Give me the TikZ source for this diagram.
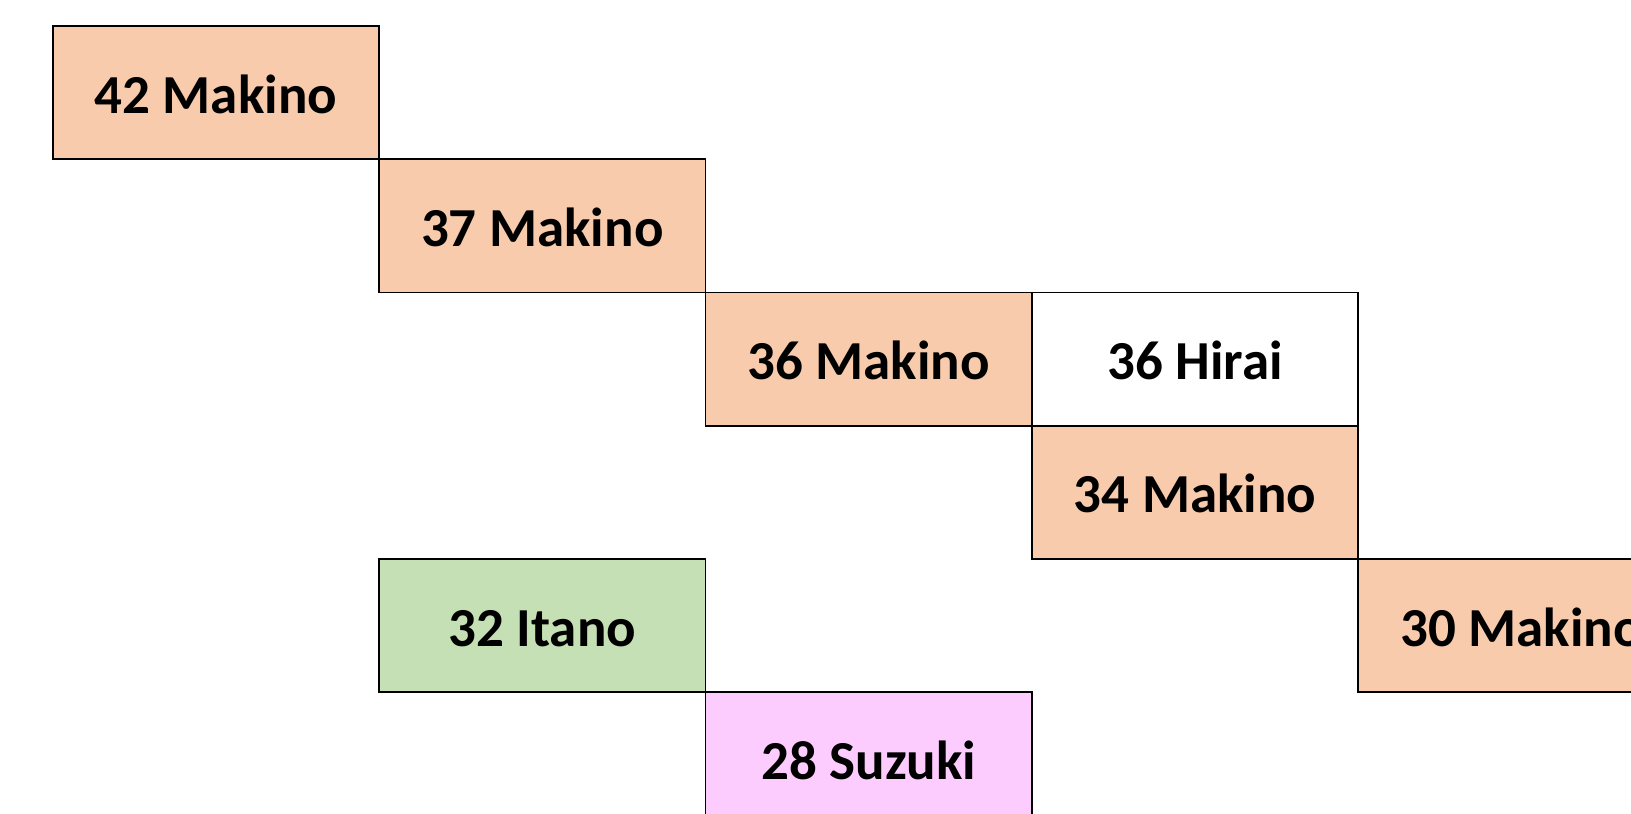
\documentclass[tikz,border=0pt]{standalone}
\usepackage{fontspec}
\setmainfont{Carlito}
\usetikzlibrary{positioning}
\definecolor{peach}{HTML}{F8CBAD}
\definecolor{leaf}{HTML}{C5E0B4}
\definecolor{orchid}{HTML}{FDCCFF}

\begin{document}
\begin{tikzpicture}[x=1pt,y=1pt,node distance=0pt,
  cell/.style={draw, line width=1.8pt, outer sep=0pt, inner sep=0pt,
    minimum width=326.4pt, minimum height=133.2pt,
    font=\fontsize{55}{60}\selectfont\bfseries, text height=50pt, text depth=8.6pt}]
\useasboundingbox (0,0) rectangle (1631,-814);
\clip (0,0) rectangle (1631,-814);

% staircase of Makino
\node[cell, fill=peach, anchor=north west] (m42) at (52.7,-26) {42 Makino};
\node[cell, fill=peach, below right=of m42] (m37) {37 Makino};
\node[cell, fill=peach, below right=of m37] (m36) {36 Makino};
\node[cell, fill=white, right=of m36] (h36) {36 Hirai};
\node[cell, fill=peach, below=of h36] (m34) {34 Makino};
\node[cell, fill=peach, below right=of m34] (m30) {30 Makino};

% the others
\node[cell, fill=leaf] (i32) at (m37 |- m30) {32 Itano};
\node[cell, fill=orchid, below right=of i32] (s28) {28 Suzuki};
\end{tikzpicture}
\end{document}
